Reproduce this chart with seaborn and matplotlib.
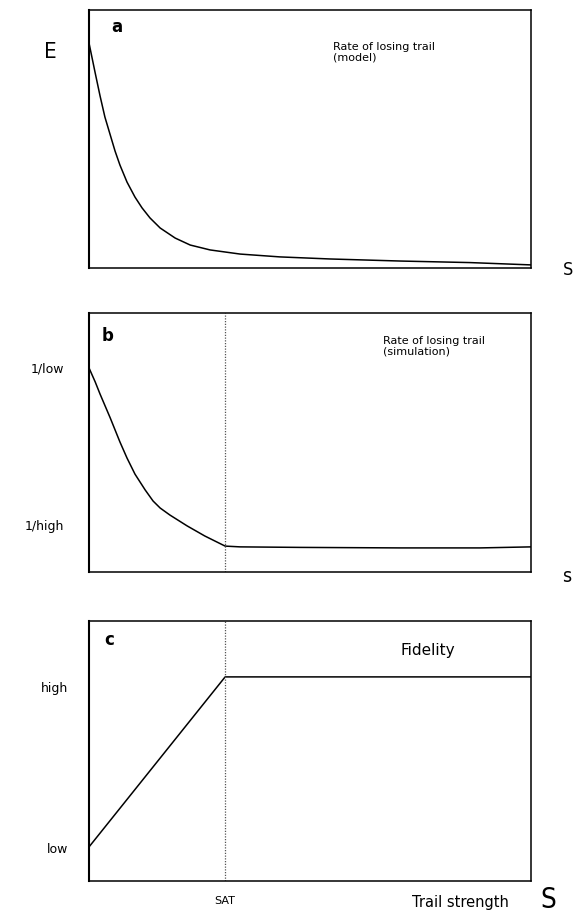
import matplotlib
matplotlib.use("Agg")
import matplotlib.pyplot as plt
import seaborn as sns
import pandas as pd
from matplotlib import font_manager
from matplotlib.font_manager import FontProperties

# ---------------- data ----------------
s_model = [0, 0.07, 0.14, 0.25, 0.36, 0.48, 0.59, 0.70, 0.86, 1.04, 1.20, 1.38, 1.61,
           1.95, 2.29, 2.74, 3.42, 4.32, 5.45, 7.04, 8.62, 10.0]
e_model = [8.72, 8.14, 7.56, 6.67, 5.85, 5.16, 4.53, 3.99, 3.33, 2.75, 2.33, 1.94, 1.55,
           1.16, 0.89, 0.70, 0.54, 0.43, 0.35, 0.27, 0.21, 0.12]

s_sim = [0, 0.14, 0.25, 0.48, 0.70, 0.86, 1.04, 1.27, 1.45, 1.61, 1.83, 2.22, 2.62,
         3.08, 3.42, 4.77, 7.04, 8.85, 10.0]
r_sim = [7.88, 7.34, 6.87, 5.95, 5.02, 4.40, 3.78, 3.17, 2.74, 2.47, 2.20, 1.78, 1.39,
         1.00, 0.97, 0.95, 0.93, 0.93, 0.97]

s_fid = [0, 3.08, 10.0]
fidelity = [1.31, 7.85, 7.85]

sat = 3.08
b_ticks = [7.88, 1.81]
b_labels = ["1/low", "1/high"]
c_ticks = [7.46, 1.27]
c_labels = ["high", "low"]

# ---------------- style ----------------
sns.set_theme(style="white")
plt.rcParams["font.family"] = ["DejaVu Sans"]
plt.rcParams["text.color"] = "black"
plt.rcParams["ytick.color"] = "black"
plt.rcParams["axes.edgecolor"] = "black"
plt.rcParams["axes.linewidth"] = 1.1

try:
    font_manager.findfont(FontProperties(family="Liberation Sans Narrow"), fallback_to_default=False)
    narrow = dict(family="Liberation Sans Narrow")
except Exception:
    narrow = dict(family="DejaVu Sans", fontstretch="condensed")

W, H = 577, 918
fig = plt.figure(figsize=(W / 100, H / 100), dpi=100)


def px_axes(x0, y0, x1, y1):
    return fig.add_axes([x0 / W, 1 - y1 / H, (x1 - x0) / W, (y1 - y0) / H])


def ftext(x, y, s, **kw):
    kw.setdefault("color", "black")
    fig.text(x / W, 1 - y / H, s, **kw)


ax_a = px_axes(89, 10, 531, 268)
ax_b = px_axes(89, 313, 531, 572)
ax_c = px_axes(89, 621, 531, 881)

df_a = pd.DataFrame({"S": s_model, "E": e_model})
df_b = pd.DataFrame({"S": s_sim, "R": r_sim})
df_c = pd.DataFrame({"S": s_fid, "F": fidelity})

sns.lineplot(data=df_a, x="S", y="E", ax=ax_a, color="black", lw=1.1, estimator=None)
sns.lineplot(data=df_b, x="S", y="R", ax=ax_b, color="black", lw=1.1, estimator=None)
sns.lineplot(data=df_c, x="S", y="F", ax=ax_c, color="black", lw=1.1, estimator=None)

for ax in (ax_b, ax_c):
    ax.axvline(sat, color="#555555", lw=0.9, ls=(0, (1, 1.2)))

for ax in (ax_a, ax_b, ax_c):
    ax.set_xlim(0, 10)
    ax.set_ylim(0, 10)
    ax.set_xlabel("")
    ax.set_ylabel("")
    ax.set_xticks([])
    for sp in ax.spines.values():
        sp.set_color("black")
        sp.set_linewidth(1.1)
    ax.spines["left"].set_linewidth(1.5)

ax_a.set_yticks([])
ax_b.set_yticks(b_ticks, b_labels)
ax_b.tick_params(axis="y", length=0, pad=18, labelsize=9, labelcolor="black")
ax_c.set_yticks(c_ticks, c_labels)
ax_c.tick_params(axis="y", length=0, pad=15, labelsize=9, labelcolor="black")

# panel letters
ftext(117, 27, "a", fontsize=12, fontweight="bold", ha="center", va="center")
ftext(108, 336, "b", fontsize=12, fontweight="bold", ha="center", va="center")
ftext(109, 640, "c", fontsize=12, fontweight="bold", ha="center", va="center")

# annotations
ftext(333, 42, "Rate of losing trail\n(model)", fontsize=8, ha="left", va="top", linespacing=1.0)
ftext(383, 336, "Rate of losing trail\n(simulation)", fontsize=8, ha="left", va="top", linespacing=1.0)
ftext(400, 650, "Fidelity", fontsize=11, ha="left", va="center")

# axis letters
ftext(50, 52, "E", fontsize=16, ha="center", va="center", **narrow)
ftext(568, 270, "S", fontsize=13, ha="center", va="center", **narrow)
ftext(567, 576, "s", fontsize=14, ha="center", va="center", **narrow)
ftext(225, 901, "SAT", fontsize=8, ha="center", va="center")
ftext(460, 902, "Trail strength", fontsize=10.5, ha="center", va="center")
ftext(548, 900, "S", fontsize=20, ha="center", va="center", **narrow)

fig.savefig("out.png", dpi=100, facecolor="white")
